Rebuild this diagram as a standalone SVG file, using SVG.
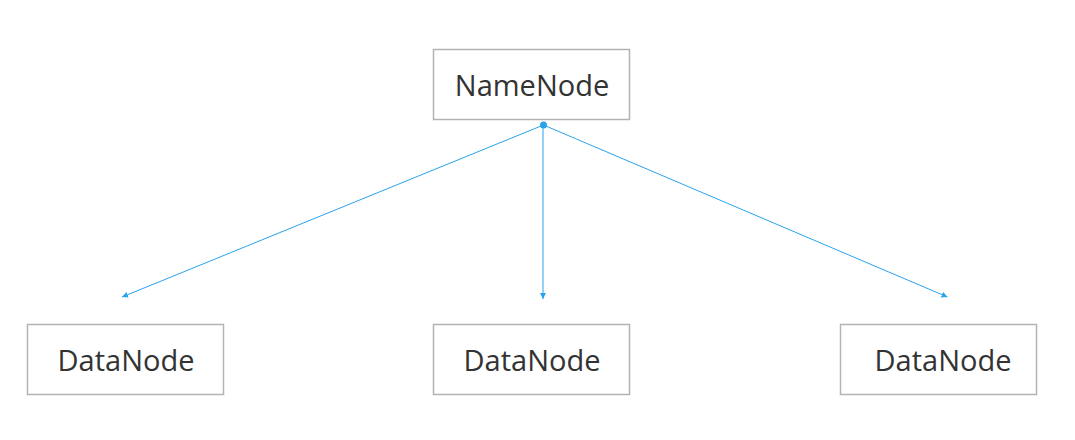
<svg xmlns="http://www.w3.org/2000/svg" width="1075" height="440" viewBox="0 0 1075 440">
<style>
.box{fill:#fff;stroke:#b3b3b3;stroke-width:1.5}
.lbl{font-family:"Open Sans","Noto Sans",sans-serif;font-size:29px;fill:#333;text-anchor:middle}
.conn{stroke:#29a3ec;stroke-width:1;fill:none}
</style>
<defs>
<marker id="ah" markerWidth="8" markerHeight="8" refX="6" refY="3" orient="auto" markerUnits="userSpaceOnUse">
<path d="M0,0 L6,3 L0,6 Z" fill="#29a3ec"/>
</marker>
</defs>
<rect width="1075" height="440" fill="#fff"/>
<g id="namenode">
<rect class="box" x="433.5" y="49.5" width="196" height="70"/>
<text class="lbl" x="532" y="96">NameNode</text>
</g>
<g id="datanode1">
<rect class="box" x="27.5" y="324.5" width="196" height="70"/>
<text class="lbl" x="126" y="371">DataNode</text>
</g>
<g id="datanode2">
<rect class="box" x="433.5" y="324.5" width="196" height="70"/>
<text class="lbl" x="532" y="371">DataNode</text>
</g>
<g id="datanode3">
<rect class="box" x="840.5" y="324.5" width="196" height="70"/>
<text class="lbl" x="943" y="371">DataNode</text>
</g>
<g id="connectors">
<circle cx="543.5" cy="125" r="3.5" fill="#29a3ec"/>
<line class="conn" x1="543.5" y1="125" x2="122" y2="297" marker-end="url(#ah)"/>
<line class="conn" x1="543" y1="125" x2="543" y2="299" marker-end="url(#ah)"/>
<line class="conn" x1="543.5" y1="125" x2="947.5" y2="297" marker-end="url(#ah)"/>
</g>
</svg>
